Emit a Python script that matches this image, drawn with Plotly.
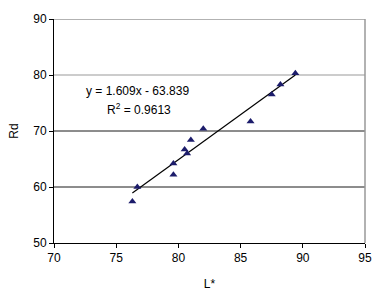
import numpy as np
import plotly.graph_objects as go

L_star = [76.3, 76.7, 79.6, 79.6, 80.5, 80.7, 81.0, 82.0, 85.8, 87.5, 88.2, 89.4]
Rd = [57.4, 60.0, 64.2, 62.2, 66.7, 66.0, 68.4, 70.4, 71.7, 76.5, 78.3, 80.3]
slope, intercept = 1.609, -63.839
r2_text = "0.9613"
x_ticks = [70, 75, 80, 85, 90, 95]
y_ticks = [50, 60, 70, 80, 90]
grid_colors = {60: "#1a1a1a", 70: "#1a1a1a", 80: "#999999", 90: "#999999"}

fnt = dict(family="Liberation Sans, Arial, sans-serif", size=12, color="black")

x_line = np.array([min(L_star), max(L_star)])
y_line = slope * x_line + intercept

fig = go.Figure()
fig.add_trace(go.Scatter(x=x_line, y=y_line, mode="lines",
                         line=dict(color="black", width=1.2), showlegend=False))
fig.add_trace(go.Scatter(x=L_star, y=Rd, mode="markers",
                         marker=dict(symbol="triangle-up", size=7, color="#1c1c6b"),
                         showlegend=False))

shapes = []
for yv, c in grid_colors.items():
    shapes.append(dict(type="line", xref="x domain", yref="y", x0=0, x1=1, y0=yv, y1=yv,
                       line=dict(color=c, width=1.5 if yv == 90 else 1), layer="below"))
shapes.append(dict(type="line", xref="x domain", yref="y domain", x0=1, x1=1, y0=0, y1=1,
                   line=dict(color="#999999", width=1.5), layer="below"))

fig.update_layout(
    width=383, height=292,
    margin=dict(l=54, r=18, t=19, b=49),
    paper_bgcolor="white", plot_bgcolor="white",
    font=fnt,
    shapes=shapes,
    xaxis=dict(range=[70, 95], tickvals=x_ticks, showgrid=False, zeroline=False,
               showline=True, linecolor="black", linewidth=1, automargin=False,
               ticks="outside", ticklen=4, tickcolor="black",
               title=dict(text="L*", font=fnt, standoff=15)),
    yaxis=dict(range=[50, 90], tickvals=y_ticks, showgrid=False, zeroline=False,
               showline=True, linecolor="black", linewidth=1, automargin=False,
               ticks="outside", ticklen=4, tickcolor="black",
               title=dict(text="Rd", font=fnt, standoff=12)),
    annotations=[
        dict(x=76.74, y=77.2, xref="x", yref="y", showarrow=False, font=fnt,
             xanchor="center", yanchor="middle",
             text=f"y = {slope:.3f}x - {abs(intercept):.3f}"),
        dict(x=76.8, y=74.0, xref="x", yref="y", showarrow=False, font=fnt,
             xanchor="center", yanchor="middle",
             text=f"R<sup>2</sup> = {r2_text}"),
    ],
)

fig.write_html("out.html")
